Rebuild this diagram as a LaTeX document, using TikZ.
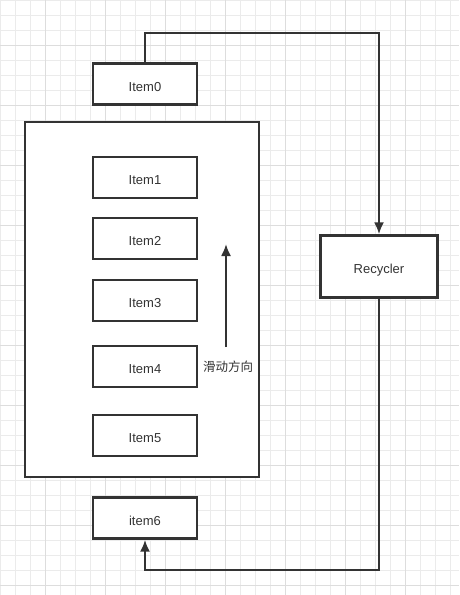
\documentclass[tikz,border=0pt]{standalone}
\usepackage{fontspec}
\setmainfont{Liberation Sans}
\newfontfamily\cjk{Noto Sans CJK SC}
\usetikzlibrary{arrows.meta}
\definecolor{ink}{HTML}{333333}
\definecolor{gridminor}{HTML}{EBEBEB}
\definecolor{gridmajor}{HTML}{DDDDDD}

\begin{document}
\begin{tikzpicture}[x=1pt,y=-1pt,
  box/.style={draw=ink,line width=2.4pt,fill=white,minimum width=104pt,minimum height=41pt,
    inner sep=0pt,text height=14pt,text depth=0pt,font=\fontsize{13}{15}\selectfont,text=ink},
  link/.style={draw=ink,line width=2.1pt,-{Latex[length=12pt,width=10pt]}}]
  % grid background
  \useasboundingbox (0,0) rectangle (459,595);
  \fill[white] (0,0) rectangle (459,595);
  \foreach \g in {0,15,...,595} \draw[gridminor,line width=1pt] (0,\g) -- (459,\g);
  \foreach \g in {0,15,...,459} \draw[gridminor,line width=1pt] (\g,0) -- (\g,595);
  \foreach \g in {45,105,...,595} \draw[gridmajor,line width=1pt] (0,\g) -- (459,\g);
  \foreach \g in {45,105,...,459} \draw[gridmajor,line width=1pt] (\g,0) -- (\g,595);
  % list window
  \node[box,minimum width=234pt,minimum height=355pt] (list) at (142,299.5) {};
  \node[box] (item0) at (145,84) {Item0};
  \node[box] (item1) at (145,177.5) {Item1};
  \node[box] (item2) at (145,238.5) {Item2};
  \node[box] (item3) at (145,300.5) {Item3};
  \node[box] (item4) at (145,366.5) {Item4};
  \node[box] (item5) at (145,435.5) {Item5};
  \node[box] (item6) at (145,518) {item6};
  \node[box,minimum width=117pt,minimum height=62pt] (recycler) at (379,266.5) {Recycler};
  % scroll direction
  \node[text=ink,font=\cjk\fontsize{12.5}{14}\selectfont] (dir) at (228,367) {滑动方向};
  \coordinate (s0) at (226,347);
  \coordinate (s1) at (226,244);
  \draw[link] (s0) -- (s1);
  % recycle path
  \coordinate (top) at (379,33);
  \coordinate (bot) at (379,570);
  \draw[link] (item0.north) |- (top) -- (recycler.north);
  \draw[link] (recycler.south) -- (bot) -| (item6.south);
\end{tikzpicture}
\end{document}
